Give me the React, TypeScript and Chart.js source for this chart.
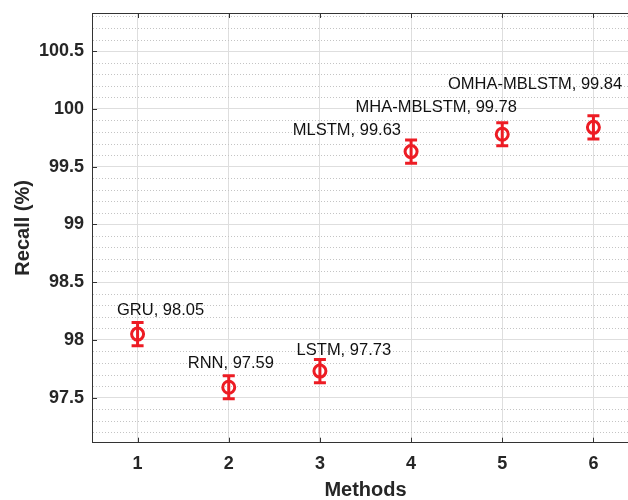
import React, { useEffect, useRef } from 'react';
import { Chart, registerables } from 'chart.js';

Chart.register(...registerables);

// ---- data ----
const methods = [1, 2, 3, 4, 5, 6];
const modelNames = ['GRU', 'RNN', 'LSTM', 'MLSTM', 'MHA-MBLSTM', 'OMHA-MBLSTM'];
const recall = [98.05, 97.59, 97.73, 99.63, 99.78, 99.84];
const recallError = [0.1, 0.1, 0.1, 0.1, 0.1, 0.1];
const xTickValues = [1, 2, 3, 4, 5, 6];
const yTickValues = [97.5, 98, 98.5, 99, 99.5, 100, 100.5];

// ---- layout / style ----
const X_MIN = 0.5;
const X_MAX = 6.5;
const Y_MIN = 97.11;
const Y_MAX = 100.83;
const Y_MINOR_STEP = 0.1;
const RED = '#ED1C24';
const AXIS = '#333333';
const TEXT = '#262626';
const FONT = "'Liberation Sans', Arial, Helvetica, sans-serif";
// pixel offsets of each annotation (left edge, baseline) relative to its marker
const labelOffsets: [number, number][] = [
  [-20.6, -19],
  [-41, -19],
  [-23.3, -15.7],
  [-118.3, -16.7],
  [-146.7, -22.3],
  [-145.4, -38.4],
];

const matlabPlugin = {
  id: 'matlabDecor',
  beforeDatasetsDraw(chart: any) {
    const { ctx, chartArea: a, scales } = chart;
    const y = scales.y;
    ctx.save();
    ctx.strokeStyle = '#c4c4c4';
    ctx.lineWidth = 1;
    ctx.setLineDash([1, 2]);
    const kStart = Math.ceil(Y_MIN / Y_MINOR_STEP);
    const kEnd = Math.floor(Y_MAX / Y_MINOR_STEP);
    for (let k = kStart; k <= kEnd; k++) {
      const v = k * Y_MINOR_STEP;
      if (yTickValues.some((t) => Math.abs(t - v) < 1e-6)) continue;
      const py = Math.round(y.getPixelForValue(v)) + 0.5;
      ctx.beginPath();
      ctx.moveTo(a.left + 1, py);
      ctx.lineTo(a.right, py);
      ctx.stroke();
    }
    ctx.restore();
  },
  afterDatasetsDraw(chart: any) {
    const { ctx, scales } = chart;
    const x = scales.x;
    const y = scales.y;
    ctx.save();
    // error bars
    ctx.strokeStyle = RED;
    ctx.lineWidth = 3;
    ctx.lineCap = 'butt';
    const cap = 6;
    methods.forEach((m, i) => {
      const px = x.getPixelForValue(m);
      const top = y.getPixelForValue(recall[i] + recallError[i]);
      const bot = y.getPixelForValue(recall[i] - recallError[i]);
      ctx.beginPath();
      ctx.moveTo(px, top);
      ctx.lineTo(px, bot);
      ctx.moveTo(px - cap, top);
      ctx.lineTo(px + cap, top);
      ctx.moveTo(px - cap, bot);
      ctx.lineTo(px + cap, bot);
      ctx.stroke();
    });
    // annotations
    ctx.fillStyle = '#111111';
    ctx.font = `16.5px ${FONT}`;
    ctx.textAlign = 'left';
    ctx.textBaseline = 'alphabetic';
    methods.forEach((m, i) => {
      const px = x.getPixelForValue(m);
      const py = y.getPixelForValue(recall[i]);
      const [dx, dy] = labelOffsets[i];
      ctx.fillText(`${modelNames[i]}, ${recall[i].toFixed(2)}`, px + dx, py + dy);
    });
    ctx.restore();
  },
  afterDraw(chart: any) {
    const { ctx, chartArea: a, scales } = chart;
    const x = scales.x;
    const y = scales.y;
    ctx.save();
    ctx.strokeStyle = AXIS;
    ctx.lineWidth = 1;
    // top box line
    ctx.beginPath();
    ctx.moveTo(a.left, a.top + 0.5);
    ctx.lineTo(a.right, a.top + 0.5);
    ctx.stroke();
    // inward tick marks
    const tl = 5;
    ctx.beginPath();
    yTickValues.forEach((v) => {
      const py = Math.round(y.getPixelForValue(v)) + 0.5;
      ctx.moveTo(a.left, py);
      ctx.lineTo(a.left + tl, py);
    });
    xTickValues.forEach((v) => {
      const px = Math.round(x.getPixelForValue(v)) + 0.5;
      ctx.moveTo(px, a.bottom);
      ctx.lineTo(px, a.bottom - tl);
      ctx.moveTo(px, a.top);
      ctx.lineTo(px, a.top + tl);
    });
    ctx.stroke();
    ctx.restore();
  },
};

export default function App() {
  const canvasRef = useRef<HTMLCanvasElement | null>(null);

  useEffect(() => {
    if (!canvasRef.current) return;
    const chart = new Chart(canvasRef.current, {
      type: 'scatter',
      data: {
        datasets: [
          {
            label: 'Recall',
            data: methods.map((m, i) => ({ x: m, y: recall[i] })),
            showLine: false,
            pointStyle: 'circle',
            pointRadius: 6,
            pointHoverRadius: 6,
            pointBorderWidth: 3,
            pointBorderColor: RED,
            pointBackgroundColor: 'rgba(0,0,0,0)',
          },
        ],
      },
      options: {
        responsive: false,
        animation: false,
        devicePixelRatio: 1,
        layout: { autoPadding: false, padding: { top: 13, left: 0, right: 0, bottom: 0 } },
        plugins: {
          legend: { display: false },
          tooltip: { enabled: false },
        },
        scales: {
          x: {
            type: 'linear',
            min: X_MIN,
            max: X_MAX,
            afterBuildTicks: (s: any) => {
              s.ticks = xTickValues.map((v) => ({ value: v }));
            },
            afterFit: (s: any) => {
              s.height = 57.3;
              s.paddingLeft = 0;
              s.paddingRight = 0;
            },
            ticks: {
              font: { family: FONT, size: 18, weight: 'bold' },
              color: TEXT,
              padding: 10.5,
              callback: (v: any) => String(v),
            },
            grid: { color: '#dedede', lineWidth: 1, drawTicks: false },
            border: { display: true, color: AXIS, width: 1 },
            title: {
              display: true,
              text: 'Methods',
              color: TEXT,
              font: { family: FONT, size: 20, weight: 'bold', lineHeight: 1 },
              padding: { top: 0, bottom: 0 },
            },
          },
          y: {
            type: 'linear',
            min: Y_MIN,
            max: Y_MAX,
            afterBuildTicks: (s: any) => {
              s.ticks = yTickValues.map((v) => ({ value: v }));
            },
            afterFit: (s: any) => {
              s.width = 92;
              s.paddingTop = 0;
              s.paddingBottom = 0;
            },
            ticks: {
              font: { family: FONT, size: 18, weight: 'bold' },
              color: TEXT,
              padding: 8,
              callback: (v: any) => String(v),
            },
            grid: { color: '#dedede', lineWidth: 1, drawTicks: false },
            border: { display: true, color: AXIS, width: 1 },
            title: {
              display: true,
              text: 'Recall (%)',
              color: TEXT,
              font: { family: FONT, size: 20, weight: 'bold', lineHeight: 1.2 },
              padding: { top: 11, bottom: 0 },
            },
          },
        },
      },
      plugins: [matlabPlugin],
    });
    return () => chart.destroy();
  }, []);

  return (
    <div style={{ position: 'fixed', left: 0, top: 0, width: 639, height: 500, background: '#fff' }}>
      <canvas ref={canvasRef} width={639} height={500} style={{ display: 'block' }} />
    </div>
  );
}
